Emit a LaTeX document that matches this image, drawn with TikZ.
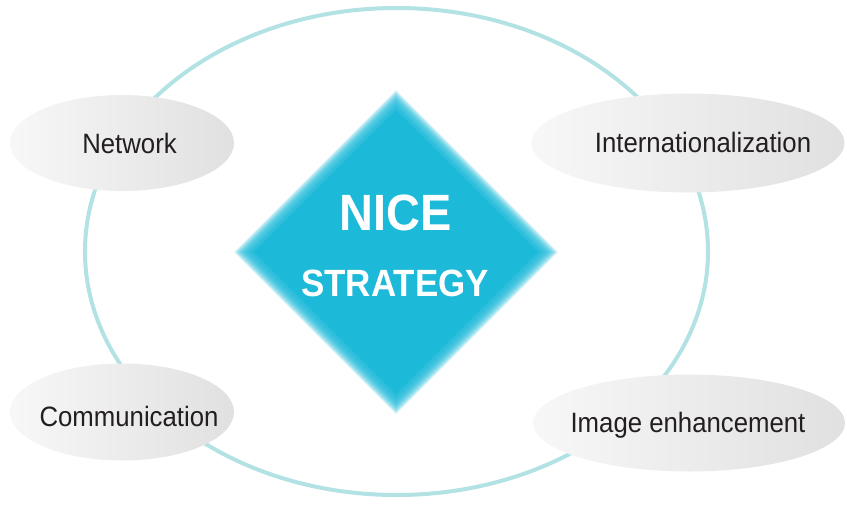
\documentclass[tikz,border=0pt]{standalone}
\usepackage{fontspec}
\setmainfont{Liberation Sans}
\newfontfamily\narrowfont[FakeStretch=0.92]{Liberation Sans}
\usetikzlibrary{shapes.geometric}
\definecolor{ringteal}{HTML}{B3E2E5}
\definecolor{niceblue}{HTML}{1CB9D9}
\definecolor{inkgray}{HTML}{231F20}

\begin{document}
\begin{tikzpicture}[x=1pt,y=-1pt]
\tikzstyle{bubble}=[ellipse,draw=none,inner sep=0pt,left color=black!3,right color=black!12]
\tikzstyle{tag}=[font=\narrowfont\fontsize{28}{30}\selectfont,text=inkgray,inner sep=0pt,text height=20pt,text depth=0pt]
\tikzstyle{title}=[font=\narrowfont\bfseries,text=white,inner sep=0pt]
\useasboundingbox (0,0) rectangle (847,504);
% outer ring
\draw[ringteal,line width=4pt] (396.5,251.5) ellipse (311.5 and 243.5);
% four bubbles
\node[bubble,minimum width=224pt,minimum height=96pt] (net) at (122,143) {};
\node[bubble,minimum width=313pt,minimum height=99pt] (intl) at (688,143) {};
\node[bubble,minimum width=224pt,minimum height=97pt] (comm) at (122,412) {};
\node[bubble,minimum width=312pt,minimum height=97pt] (img) at (689,423) {};
\node[tag] (netlbl) at (129.5,143) {Network};
\node[tag] (intllbl) at (703,142) {Internationalization};
\node[tag] (commlbl) at (129,416) {Communication};
\node[tag] (imglbl) at (688,422) {Image enhancement};
% diamond with soft edge
\foreach \k in {0,...,19}
  \fill[niceblue,fill opacity=0.13] (396,90+\k) -- (558-\k,252) -- (396,414-\k) -- (234+\k,252) -- cycle;
\node[diamond,fill=niceblue,inner sep=0pt,minimum width=284pt,minimum height=284pt] (core) at (396,252) {};
\node[title,font=\narrowfont\bfseries\fontsize{51}{53}\selectfont] (nice) at (396,213) {NICE};
\node[title,font=\narrowfont\bfseries\fontsize{38}{40}\selectfont] (strat) at (395,283) {STRATEGY};
\end{tikzpicture}
\end{document}
